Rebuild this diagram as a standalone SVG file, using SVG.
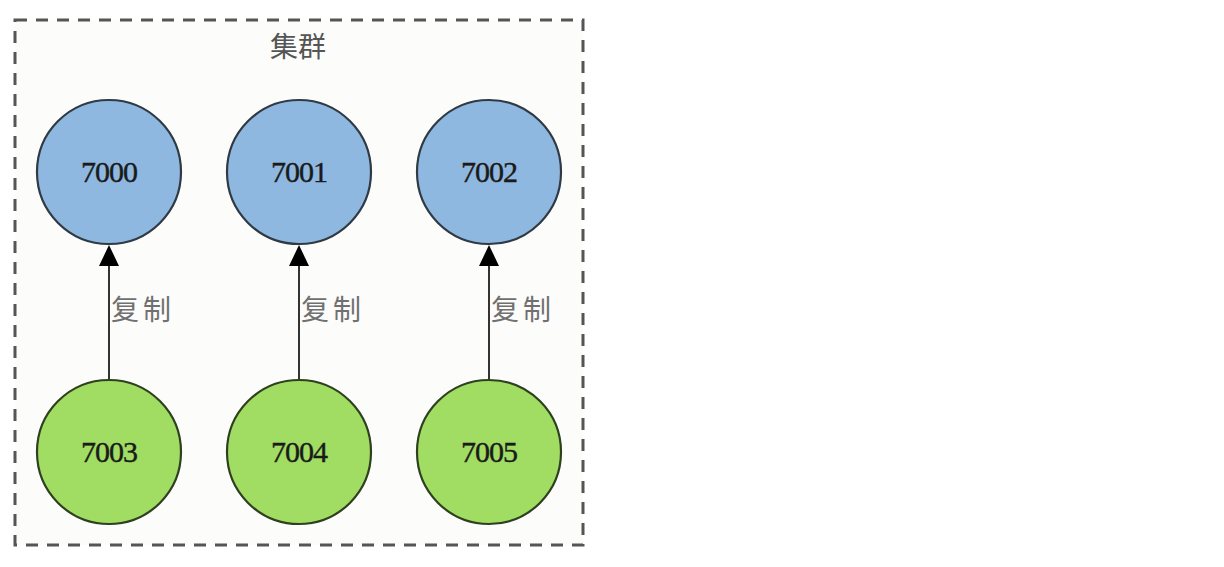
<svg xmlns="http://www.w3.org/2000/svg" width="1224" height="567" viewBox="0 0 1224 567">
<style>
.bg{fill:#ffffff}
.cluster{fill:#fcfcfa;stroke:#555555;stroke-width:3;stroke-dasharray:12,9}
.title{font-family:"Noto Sans CJK SC","Liberation Sans",sans-serif;font-size:28px;fill:#555555;text-anchor:middle}
.master{fill:#8fb8e0;stroke:#2f3a44;stroke-width:2.2}
.slave{fill:#a0dd62;stroke:#2f4020;stroke-width:2.2}
.num{font-family:"Liberation Serif",serif;font-size:30px;fill:#1a1a1a;text-anchor:middle;letter-spacing:-1px;stroke:#1a1a1a;stroke-width:0.4}
.edge{stroke:#333333;stroke-width:2;fill:none}
.lbl{font-family:"Noto Sans CJK SC","Liberation Sans",sans-serif;font-size:28px;fill:#707070;letter-spacing:4px}
</style>
<rect class="bg" x="0" y="0" width="1224" height="567"/>
<g id="cluster">
<rect class="cluster" x="15" y="20" width="568" height="525"/>
<text class="title" x="298" y="57">集群</text>
</g>
<g id="connectors">
<g id="e1"><line class="edge" x1="109" y1="379" x2="109" y2="266"/><path d="M99,266 L109,245 L119,266 z" fill="#000"/><text class="lbl" x="111" y="320">复制</text></g>
<g id="e2"><line class="edge" x1="299" y1="379" x2="299" y2="266"/><path d="M289,266 L299,245 L309,266 z" fill="#000"/><text class="lbl" x="301" y="320">复制</text></g>
<g id="e3"><line class="edge" x1="489" y1="379" x2="489" y2="266"/><path d="M479,266 L489,245 L499,266 z" fill="#000"/><text class="lbl" x="491" y="320">复制</text></g>
</g>
<g id="n7000"><circle class="master" cx="109" cy="172" r="72"/><text class="num" x="109" y="182">7000</text></g>
<g id="n7001"><circle class="master" cx="299" cy="172" r="72"/><text class="num" x="299" y="182">7001</text></g>
<g id="n7002"><circle class="master" cx="489" cy="172" r="72"/><text class="num" x="489" y="182">7002</text></g>
<g id="n7003"><circle class="slave" cx="109" cy="452" r="72"/><text class="num" x="109" y="462">7003</text></g>
<g id="n7004"><circle class="slave" cx="299" cy="452" r="72"/><text class="num" x="299" y="462">7004</text></g>
<g id="n7005"><circle class="slave" cx="489" cy="452" r="72"/><text class="num" x="489" y="462">7005</text></g>
</svg>
